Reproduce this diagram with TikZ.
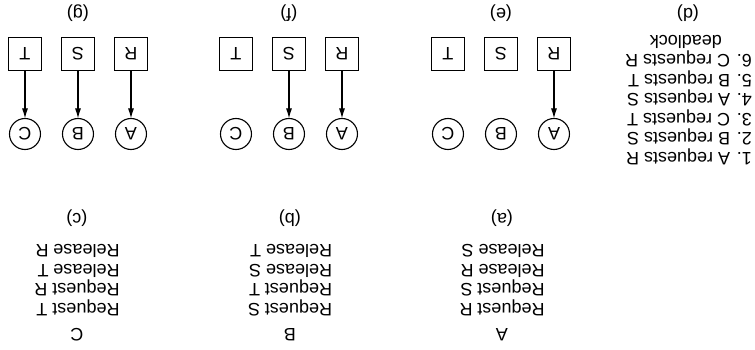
\documentclass[tikz,border=0pt]{standalone}
\usepackage{fontspec}
\setmainfont{Liberation Sans}
\usetikzlibrary{arrows.meta}

\newcommand\procy{134}
\newcommand\rsrcy{54}
\newcommand\colgap{53}
\newcommand\listy{280}
\newcommand\steptextstyle{\fontsize{18}{19.5}\selectfont}

\tikzset{
  proc/.style={circle, draw, line width=1.1pt, minimum size=31pt, inner sep=0pt},
  rsrc/.style={rectangle, draw, line width=1.1pt, minimum size=33pt, inner sep=0pt},
  hold/.style={-{Latex[length=10pt,width=6pt]}, line width=1.1pt, shorten >=-0.5pt},
  caption/.style={inner sep=0pt, font=\steptextstyle},
}

% one resource graph: processes on top, resources below
\newcommand\rsrcgraph[3]{
  \node[proc] (#1A) at (#2 - \colgap, \procy) {A};
  \node[proc] (#1B) at (#2, \procy) {B};
  \node[proc] (#1C) at (#2 + \colgap, \procy) {C};
  \node[rsrc] (#1R) at (#2 - \colgap, \rsrcy) {R};
  \node[rsrc] (#1S) at (#2, \rsrcy) {S};
  \node[rsrc] (#1T) at (#2 + \colgap, \rsrcy) {T};
  \node[caption] (#1cap) at (#2, 13) {#3};
}

% one process column: name, its requests, its label
\newcommand\proclist[4]{
  \node[caption] (#1name) at (#2, 335) {#1};
  \node[caption, align=left] (#1list) at (#2, \listy) {#3};
  \node[caption] (#1cap) at (#2, 218) {#4};
}

\begin{document}
\begin{tikzpicture}[x=1pt, y=1pt, transform shape, rotate=180,
    every node/.append style={font=\steptextstyle}]
  \useasboundingbox (0, 0) rectangle (755, 350);

  \proclist{A}{253}{Request R\\Request S\\Release R\\Release S}{(a)}
  \proclist{B}{465}{Request S\\Request T\\Release S\\Release T}{(b)}
  \proclist{C}{678}{Request T\\Request R\\Release T\\Release R}{(c)}

  % the order that ends in deadlock
  \node[caption, align=left, anchor=west] (order) at (3, 100)
    {1. A requests R\\2. B requests S\\3. C requests T\\4. A requests S\\5. B requests T\\6. C requests R\\\hspace*{30pt}deadlock};
  \node[caption] (dcap) at (67, 13) {(d)};

  \rsrcgraph{e}{254}{(e)}
  \draw[hold] (eR) -- (eA);

  \rsrcgraph{f}{466}{(f)}
  \draw[hold] (fR) -- (fA);
  \draw[hold] (fS) -- (fB);

  \rsrcgraph{g}{677}{(g)}
  \draw[hold] (gR) -- (gA);
  \draw[hold] (gS) -- (gB);
  \draw[hold] (gT) -- (gC);
\end{tikzpicture}
\end{document}
